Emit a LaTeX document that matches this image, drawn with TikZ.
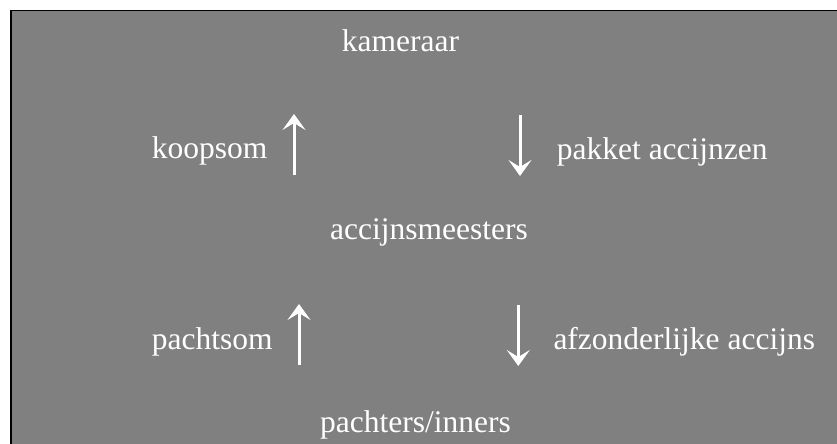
\documentclass[tikz,border=0pt]{standalone}
\usepackage{fontspec}
\setmainfont{Liberation Serif}
\usetikzlibrary{arrows.meta}
\definecolor{bggray}{RGB}{128,128,128}
\begin{document}
\begin{tikzpicture}[x=1bp,y=-1bp,
  lbl/.style={text=white,inner sep=0pt,font=\fontsize{31.5bp}{36bp}\selectfont},
  flow/.style={white,line width=3bp,-{Stealth[length=16bp,width=23bp,inset=7bp]}}]
\useasboundingbox (0,0) rectangle (837,444);
\fill[white] (0,0) rectangle (837,444);
\fill[bggray] (10.75,10.75) rectangle (840,450);
\draw[black,line width=1.5bp] (10.75,450) -- (10.75,10.75) -- (840,10.75);
\node[lbl,anchor=base] (kam) at (400.5,52) {kameraar};
\node[lbl,anchor=base west] (koop) at (151.7,159) {koopsom};
\node[lbl,anchor=base west] (pak) at (556.7,160) {pakket accijnzen};
\node[lbl,anchor=base] (acc) at (429,240) {accijnsmeesters};
\node[lbl,anchor=base west] (pacht) at (151.7,350) {pachtsom};
\node[lbl,anchor=base west] (afz) at (553.3,350) {afzonderlijke accijns};
\node[lbl,anchor=base] (inn) at (415.5,432.7) {pachters/inners};
\coordinate (u1a) at (294,175); \coordinate (u1b) at (294,114);
\coordinate (d1a) at (520,115); \coordinate (d1b) at (520,176);
\coordinate (u2a) at (299,365); \coordinate (u2b) at (299,304);
\coordinate (d2a) at (518.3,305); \coordinate (d2b) at (518.3,366);
\draw[flow] (u1a) -- (u1b);
\draw[flow] (d1a) -- (d1b);
\draw[flow] (u2a) -- (u2b);
\draw[flow] (d2a) -- (d2b);
\end{tikzpicture}
\end{document}
